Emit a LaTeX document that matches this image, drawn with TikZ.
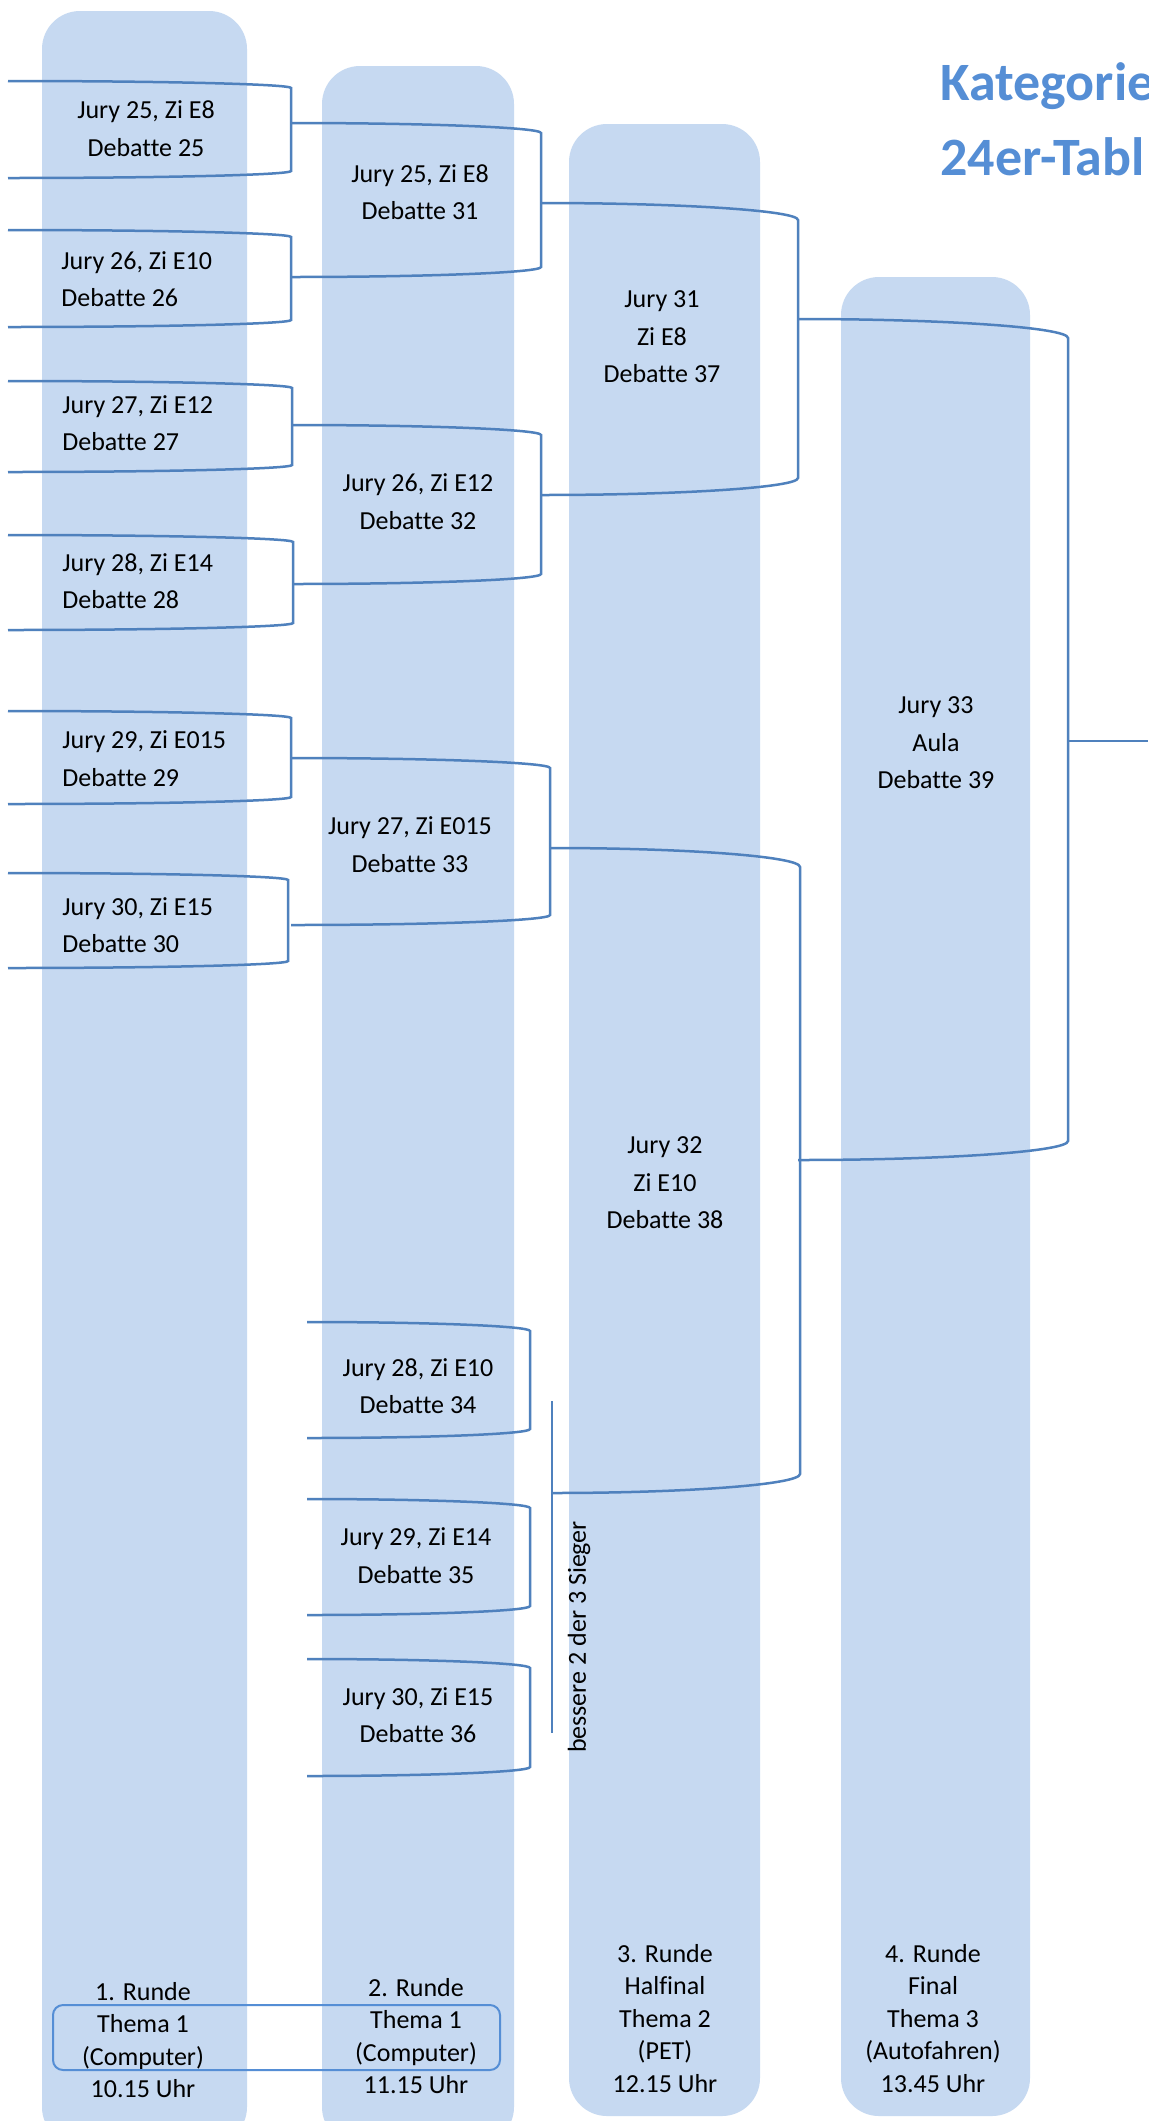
\documentclass[tikz,border=0pt]{standalone}
\usepackage{fontspec}
\setmainfont[Ligatures=CommonOff]{Carlito}
\usepackage{tikz}
\usetikzlibrary{positioning}

\definecolor{colbg}{HTML}{C6D9F1}
\definecolor{brkblue}{HTML}{4F81BD}
\definecolor{titleblue}{HTML}{558ED5}

% bracket: left x, top y, bottom y, right x, drop at the corner
\newcommand{\tabbracket}[5]{%
  \draw[bline] (#1,#2) .. controls ({#1+0.55*(#4-#1)},#2) and (#4,{#2+0.45*#5}) .. (#4,{#2+#5})
    -- (#4,{#3-#5}) .. controls (#4,{#3-0.45*#5}) and ({#1+0.55*(#4-#1)},#3) .. (#1,#3);}

\begin{document}
\begin{tikzpicture}[
      x=0.5pt, y=-0.5pt,
      column/.style={fill=colbg, rounded corners=19pt},
      bline/.style={draw=brkblue, line width=1.25pt},
      jury/.style={font=\fontsize{13}{18.75}\selectfont, align=center, inner sep=0pt},
      juryl/.style={jury, align=left, anchor=west},
      runde/.style={font=\fontsize{13}{16.25}\selectfont, align=center, inner sep=0pt},
      titel/.style={font=\fontsize{27}{37.5}\selectfont\bfseries, text=titleblue,
                    inner sep=0pt, anchor=base west}
    ]
      \useasboundingbox (0,0) rectangle (1148,2121);
      \clip (0,0) rectangle (1148,2121);
      \fill[white] (0,0) rectangle (1148,2121);
      % columns
      \fill[column] (42,11)   rectangle (247,2145);
      \fill[column] (322,66)  rectangle (514,2145);
      \fill[column] (569,124) rectangle (760,2116);
      \fill[column] (841,277) rectangle (1030,2116);
      % title
      \node[titel] (kat) at (940,100) {Kategorie};
      \node[titel] (tab) at (940,175) {24er-Tabl};
      % round 1
      \tabbracket{8}{81}{178}{291}{7}
      \tabbracket{8}{230}{327}{291}{7}
      \tabbracket{8}{381}{472}{292}{7}
      \tabbracket{8}{535}{630}{293}{7}
      \tabbracket{8}{711}{804}{291}{7}
      \tabbracket{8}{873}{968}{288}{7}
      \node[jury]  (d25) at (146,128.5) {Jury 25, Zi E8\\Debatte 25};
      \node[juryl] (d26) at (61,279)    {Jury 26, Zi E10\\Debatte 26};
      \node[juryl] (d27) at (62,423)    {Jury 27, Zi E12\\Debatte 27};
      \node[juryl] (d28) at (62,581)    {Jury 28, Zi E14\\Debatte 28};
      \node[juryl] (d29) at (62,758.5)  {Jury 29, Zi E015\\Debatte 29};
      \node[juryl] (d30) at (62,925)    {Jury 30, Zi E15\\Debatte 30};
      % round 2
      \tabbracket{291}{123}{277}{541}{10}
      \tabbracket{292}{425}{584}{541}{10}
      \tabbracket{291}{758}{925}{550}{10}
      \tabbracket{307}{1322}{1438}{530}{9}
      \tabbracket{307}{1499}{1615}{530}{9}
      \tabbracket{307}{1659}{1776}{530}{9}
      \node[jury] (d31) at (420,192)    {Jury 25, Zi E8\\Debatte 31};
      \node[jury] (d32) at (418,501.5)  {Jury 26, Zi E12\\Debatte 32};
      \node[jury] (d33) at (410,844.5)  {Jury 27, Zi E015\\Debatte 33};
      \node[jury] (d34) at (418,1386)   {Jury 28, Zi E10\\Debatte 34};
      \node[jury] (d35) at (416,1555.5) {Jury 29, Zi E14\\Debatte 35};
      \node[jury] (d36) at (418,1715)   {Jury 30, Zi E15\\Debatte 36};
      \coordinate (sTop) at (552,1401);
      \coordinate (sBot) at (552,1733);
      \draw[bline] (sTop) -- (sBot);
      \node[jury, rotate=90] (sieger) at (579,1637) {bessere 2 der 3 Sieger};
      % round 3
      \tabbracket{541}{203}{495}{798}{17}
      \tabbracket{551}{848}{1493}{800}{19}
      \node[jury] (d37) at (662,337)  {Jury 31\\Zi E8\\Debatte 37};
      \node[jury] (d38) at (665,1183) {Jury 32\\Zi E10\\Debatte 38};
      % round 4
      \tabbracket{798}{319}{1160}{1068}{19}
      \node[jury] (d39) at (936,743) {Jury 33\\Aula\\Debatte 39};
      \coordinate (fOut) at (1148,741);
      \draw[bline] (1068,741) -- (fOut);
      % round labels
      \node[runde] (r1) at (143,2040)    {1. Runde\\Thema 1\\(Computer)\\10.15 Uhr};
      \node[runde] (r2) at (416,2036)    {2. Runde\\Thema 1\\(Computer)\\11.15 Uhr};
      \node[runde] (r3) at (665,2018.5)  {3. Runde\\Halfinal\\Thema 2\\(PET)\\12.15 Uhr};
      \node[runde] (r4) at (933,2018.5)  {4. Runde\\Final\\Thema 3\\(Autofahren)\\13.45 Uhr};
      \draw[draw=titleblue, line width=1pt, rounded corners=5pt] (53,2005) rectangle (500,2070);
    \end{tikzpicture}
\end{document}
